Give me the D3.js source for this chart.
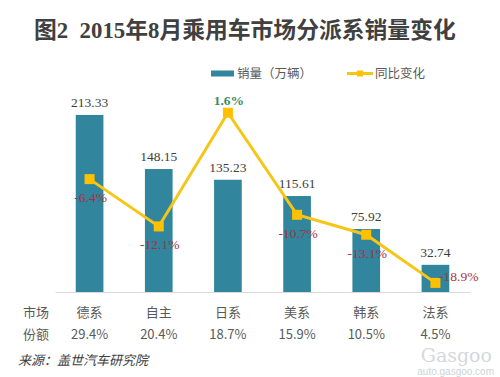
<!DOCTYPE html>
<html>
<head>
<meta charset="utf-8">
<script src="https://cdn.jsdelivr.net/npm/d3@7"></script>
<style>
  body { margin: 0; background: #fff; }
  svg { display: block; }
</style>
</head>
<body>
<div id="chart"></div>
<script>
// data
const groups = ["德系", "自主", "日系", "美系", "韩系", "法系"];
const sales = [213.33, 148.15, 135.23, 115.61, 75.92, 32.74];
const yoy = [-6.4, -12.1, 1.6, -10.7, -13.1, -18.9];
const shares = ["29.4%", "20.4%", "18.7%", "15.9%", "10.5%", "4.5%"];

const W = 500, H = 377;
const sans = "'Noto Sans CJK SC', 'Noto Sans', sans-serif";
const serif = "'Liberation Serif', 'Noto Sans CJK SC', serif";

const svg = d3.select("#chart").append("svg")
    .attr("width", W)
    .attr("height", H);

// title
svg.append("text")
    .attr("x", 34)
    .attr("y", 38)
    .style("white-space", "pre")
    .attr("font-family", serif)
    .attr("font-weight", "bold")
    .attr("font-size", 22.8)
    .attr("fill", "#404040")
    .text("图2  2015年8月乘用车市场分派系销量变化");

// scales
const x = d3.scaleBand()
    .domain(groups)
    .range([55, 470])
    .paddingInner(0.6)
    .paddingOuter(0.3);

const y = d3.scaleLinear().domain([0, 250]).range([292, 84.5]);
const y2 = d3.scaleLinear().domain([-20, 5]).range([292, 84.5]);

const cx = d => x(d) + x.bandwidth() / 2;

// bars
svg.selectAll("rect.bar")
    .data(groups)
    .join("rect")
    .attr("class", "bar")
    .attr("x", d => x(d))
    .attr("y", (d, i) => y(sales[i]))
    .attr("width", x.bandwidth())
    .attr("height", (d, i) => y(0) - y(sales[i]))
    .attr("fill", "#31859c");

// bar value labels
svg.selectAll("text.val")
    .data(groups)
    .join("text")
    .attr("class", "val")
    .attr("x", cx)
    .attr("y", (d, i) => y(sales[i]) - 8)
    .attr("text-anchor", "middle")
    .attr("font-family", serif)
    .attr("font-size", 13.5)
    .attr("fill", "#404040")
    .text((d, i) => sales[i].toFixed(2));

// baseline axis
svg.append("g")
    .attr("transform", `translate(0,${y(0)})`)
    .call(d3.axisBottom(x).tickSize(0).tickFormat(""))
    .call(g => g.select(".domain").attr("stroke", "#d9d9d9").attr("stroke-width", 1.2));

// yoy line
const line = d3.line()
    .x((d, i) => cx(groups[i]))
    .y(d => y2(d));

svg.append("path")
    .datum(yoy)
    .attr("d", line)
    .attr("fill", "none")
    .attr("stroke", "#f5c518")
    .attr("stroke-width", 3);

svg.selectAll("rect.mk")
    .data(yoy)
    .join("rect")
    .attr("class", "mk")
    .attr("x", (d, i) => cx(groups[i]) - 5)
    .attr("y", d => y2(d) - 5)
    .attr("width", 10)
    .attr("height", 10)
    .attr("fill", "#ffc000");

// yoy labels
svg.selectAll("text.yoy")
    .data(yoy)
    .join("text")
    .attr("class", "yoy")
    .attr("x", (d, i) => i === 5 ? cx(groups[i]) + 43 : cx(groups[i]) + 1)
    .attr("y", (d, i) => {
        if (d > 0) return y2(d) - 8;
        if (i === 5) return y2(d) - 2;
        return y2(d) + 23;
    })
    .attr("text-anchor", (d, i) => i === 5 ? "end" : "middle")
    .attr("font-family", serif)
    .attr("font-size", 13.5)
    .attr("font-weight", d => d > 0 ? "bold" : "normal")
    .attr("fill", d => d > 0 ? "#3a8a62" : "#a33446")
    .text(d => d.toFixed(1) + "%");

// category and share rows
svg.append("text")
    .attr("x", 36).attr("y", 317)
    .attr("text-anchor", "middle")
    .attr("font-family", sans).attr("font-size", 13)
    .attr("fill", "#595959")
    .text("市场");
svg.append("text")
    .attr("x", 36).attr("y", 339)
    .attr("text-anchor", "middle")
    .attr("font-family", sans).attr("font-size", 13)
    .attr("fill", "#595959")
    .text("份额");

svg.selectAll("text.cat")
    .data(groups)
    .join("text")
    .attr("class", "cat")
    .attr("x", cx)
    .attr("y", 317)
    .attr("text-anchor", "middle")
    .attr("font-family", sans)
    .attr("font-size", 13)
    .attr("fill", "#595959")
    .text(d => d);

svg.selectAll("text.share")
    .data(groups)
    .join("text")
    .attr("class", "share")
    .attr("x", cx)
    .attr("y", 339)
    .attr("text-anchor", "middle")
    .attr("font-family", sans)
    .attr("font-size", 13)
    .attr("fill", "#595959")
    .text((d, i) => shares[i]);

// legend
const lg = svg.append("g");
lg.append("rect")
    .attr("x", 211).attr("y", 70.5)
    .attr("width", 23).attr("height", 6)
    .attr("fill", "#31859c");
lg.append("text")
    .attr("x", 237).attr("y", 78)
    .attr("font-family", sans).attr("font-size", 12.5)
    .attr("fill", "#595959")
    .text("销量（万辆）");
lg.append("line")
    .attr("x1", 347).attr("x2", 373)
    .attr("y1", 73.5).attr("y2", 73.5)
    .attr("stroke", "#f5c518").attr("stroke-width", 3);
lg.append("rect")
    .attr("x", 357).attr("y", 70.5)
    .attr("width", 6).attr("height", 6)
    .attr("fill", "#ffc000");
lg.append("text")
    .attr("x", 375).attr("y", 78)
    .attr("font-family", sans).attr("font-size", 12.5)
    .attr("fill", "#595959")
    .text("同比变化");

// source
svg.append("text")
    .attr("x", 18).attr("y", 365)
    .attr("font-family", sans)
    .attr("font-style", "italic")
    .attr("font-size", 13)
    .attr("fill", "#404040")
    .text("来源：盖世汽车研究院");

// watermark
svg.append("text")
    .attr("x", 492).attr("y", 362)
    .attr("text-anchor", "end")
    .attr("font-family", "'DejaVu Serif', serif")
    .attr("font-size", 19)
    .attr("fill", "#d4d8dc")
    .text("Gasgoo");
svg.append("text")
    .attr("x", 494).attr("y", 375)
    .attr("text-anchor", "end")
    .attr("font-family", "'Liberation Sans', sans-serif")
    .attr("font-size", 10)
    .attr("fill", "#cfd3d6")
    .text("auto.gasgoo.com");
</script>
</body>
</html>
